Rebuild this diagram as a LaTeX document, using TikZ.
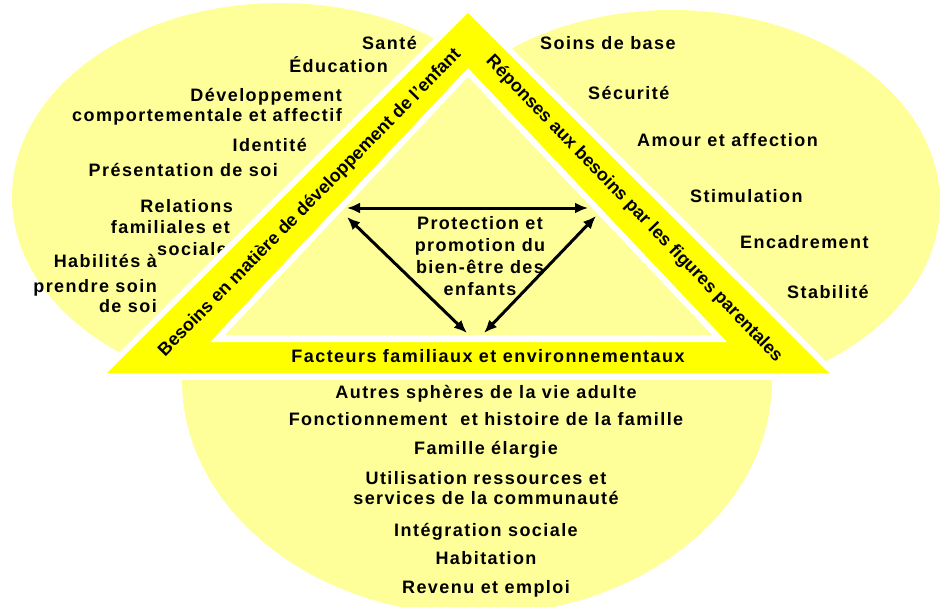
\documentclass[tikz,border=0pt]{standalone}
\usepackage{fontspec}
\setmainfont{Liberation Sans}
\newfontfamily\hfont{Liberation Sans}[LetterSpace=8]
\newfontfamily\dfont{Liberation Sans}
\usetikzlibrary{arrows.meta}
\definecolor{lyel}{HTML}{FFFF99}
\definecolor{dyel}{HTML}{FFFF00}
\begin{document}
\begin{tikzpicture}[x=1pt,y=-1pt,
  lbl/.style={font=\hfont\bfseries\fontsize{18}{22}\selectfont, inner sep=0pt},
  lft/.style={lbl, anchor=base east},
  rgt/.style={lbl, anchor=base west},
  ctr/.style={lbl, anchor=base},
  band/.style={font=\dfont\bfseries\fontsize{18}{22}\selectfont, inner sep=0pt, anchor=center},
  arr/.style={{Latex[length=13pt,width=11pt]}-{Latex[length=13pt,width=11pt]}, line width=3pt}]
\useasboundingbox (0,0) rectangle (940,607);
% background ellipses
\begin{scope}
  \clip (0,0) rectangle (940,376);
  \fill[lyel] (280,197) ellipse [x radius=268, y radius=194];
  \fill[lyel] (672,203) ellipse [x radius=268, y radius=193];
\end{scope}
\begin{scope}
  \clip (0,380) rectangle (940,620);
  \fill[lyel] (477,380) ellipse [x radius=295, y radius=235];
\end{scope}
% left texts
\node[lft] (sante) at (417,50) {Santé};
\node[lft] (educ) at (388,73) {Éducation};
\node[lft] (dev1) at (342,102) {Développement};
\node[lft] (dev2) at (342,122) {comportementale et affectif};
\node[lft] (ident) at (307,152) {Identité};
\node[lft] (pres) at (278,177) {Présentation de soi};
\node[lft] (rel1) at (233,212) {Relations};
\node[lft] (rel2) at (230,233) {familiales et};
\node[rgt] (rel3) at (157,255) {sociale};
\node[lft] (hab1) at (157,267) {Habilités à};
\node[lft] (hab2) at (157,292) {prendre soin};
\node[lft] (hab3) at (157,312) {de soi};
% right texts
\node[rgt] (soins) at (540,50) {Soins de base};
\node[rgt] (secu) at (588,100) {Sécurité};
\node[rgt] (amour) at (637,147) {Amour et affection};
\node[rgt] (stim) at (690,202) {Stimulation};
\node[rgt] (enca) at (740,248) {Encadrement};
\node[rgt] (stab) at (787,298) {Stabilité};
% bottom texts
\node[ctr] (b1) at (486,398) {Autres sphères de la vie adulte};
\node[ctr] (b2) at (486,425) {Fonctionnement\ \ et histoire de la famille};
\node[ctr] (b3) at (486,454) {Famille élargie};
\node[ctr] (b4) at (486,484) {Utilisation ressources et};
\node[ctr] (b5) at (486,504) {services de la communauté};
\node[ctr] (b6) at (486,536) {Intégration sociale};
\node[ctr] (b7) at (486,564) {Habitation};
\node[ctr] (b8) at (486,593) {Revenu et emploi};
% triangle
\draw[white, line width=12pt, line join=round] (468,13) -- (107,373) -- (829,373) -- cycle;
\fill[dyel] (468,13) -- (107,373) -- (829,373) -- cycle;
\fill[white] (468,68) -- (210,342) -- (727,342) -- cycle;
\fill[lyel] (468,77) -- (225,335) -- (712,335) -- cycle;
% band labels
\node[band, rotate=45.5] (lband) at (310,203) {Besoins en matière de développement de l’enfant};
\node[band, rotate=-46] (rband) at (634,209) {Réponses aux besoins par les figures parentales};
\node[ctr] (fact) at (488,362) {Facteurs familiaux et environnementaux};
% centre
\node[ctr] (c1) at (480,229) {Protection et};
\node[ctr] (c2) at (480,251) {promotion du};
\node[ctr] (c3) at (480,273) {bien-être des};
\node[ctr] (c4) at (480,295) {enfants};
\coordinate (hA) at (347,208);
\coordinate (hB) at (588,208);
\coordinate (lA) at (347,217);
\coordinate (lB) at (467,333);
\coordinate (rA) at (596,216);
\coordinate (rB) at (484,333);
\draw[arr] (hA) -- (hB);
\draw[arr] (lA) -- (lB);
\draw[arr] (rA) -- (rB);
\end{tikzpicture}
\end{document}
